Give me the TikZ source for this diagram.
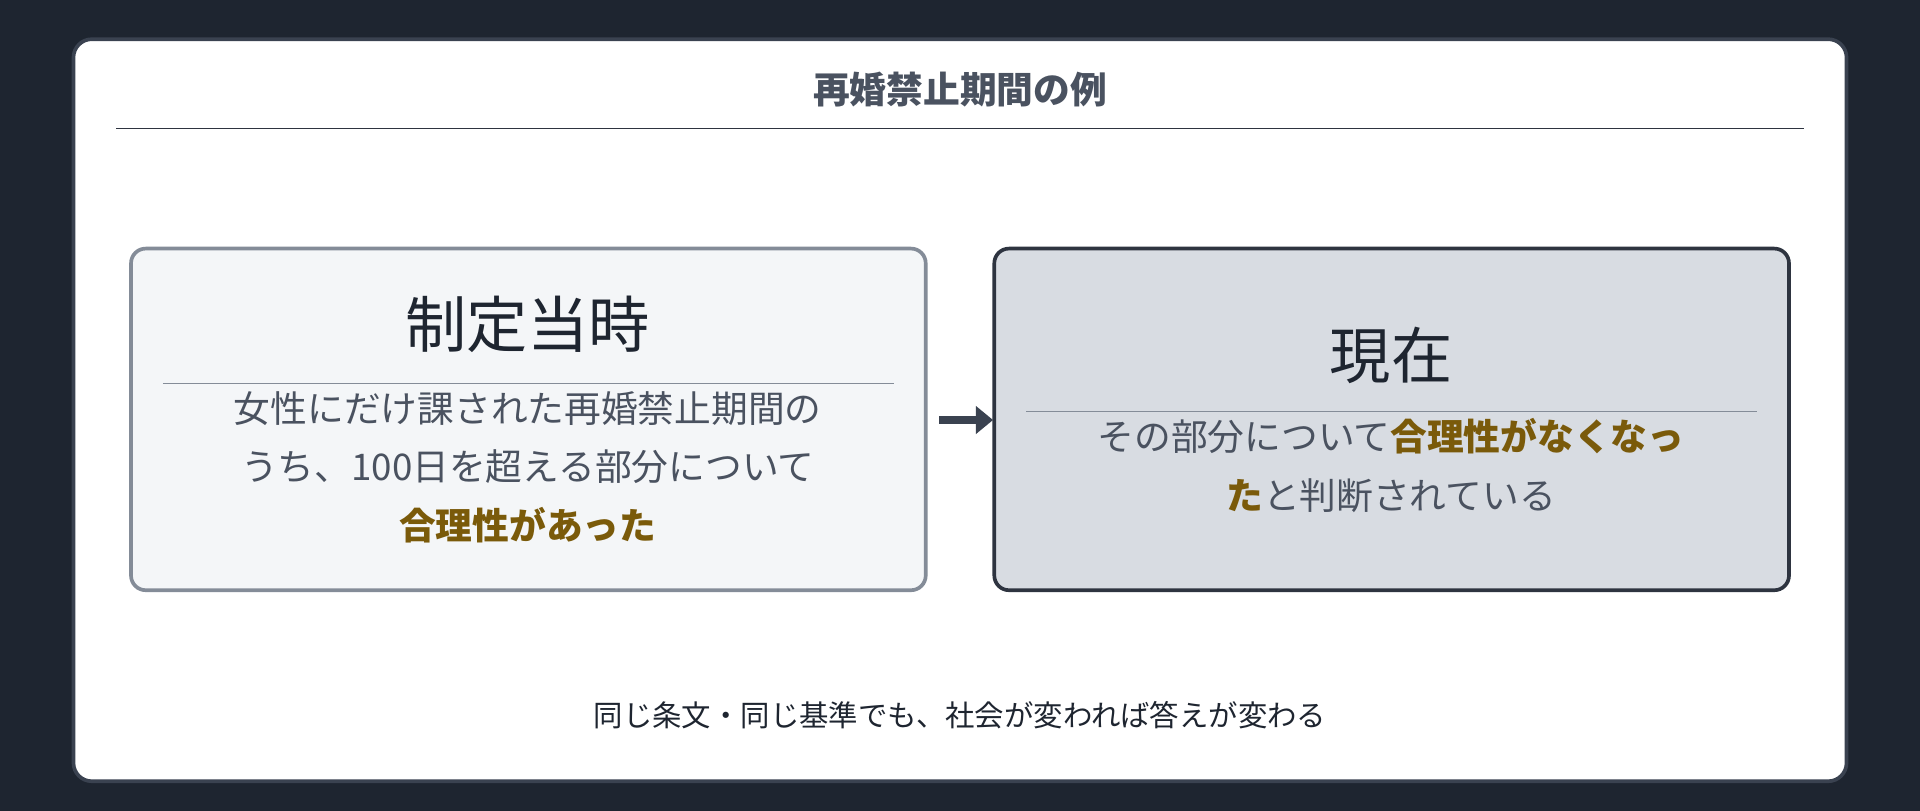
\documentclass[tikz,border=0pt]{standalone}
\usepackage{fontspec}
\usetikzlibrary{arrows.meta}
\setmainfont{Noto Sans CJK JP}
\definecolor{bg}{HTML}{1E2530}
\definecolor{cardb}{HTML}{3A4250}
\definecolor{lfill}{HTML}{F4F6F8}
\definecolor{lbord}{HTML}{848C98}
\definecolor{rfill}{HTML}{D8DCE2}
\definecolor{rbord}{HTML}{2E3440}
\definecolor{txt}{HTML}{4A5260}
\definecolor{brn}{HTML}{7A5A0A}
\definecolor{dark}{HTML}{1E2530}
\newcommand{\hl}[1]{{\bfseries\color{brn}#1}}
\begin{document}
\begin{tikzpicture}[x=1pt,y=-1pt,
  box/.style={draw,line width=3pt,rounded corners=12pt},
  body/.style={text=txt,font=\fontsize{30}{48}\selectfont,align=center,anchor=north},
  rule/.style={line width=1.2pt}]
\fill[bg] (0,0) rectangle (1568,662);
\useasboundingbox (0,0) rectangle (1568,662);
\draw[fill=white,draw=cardb,line width=3pt,rounded corners=15pt] (60,32) rectangle (1508,638);
\node[font=\fontsize{30}{36}\selectfont\bfseries,text=txt] (title) at (784,73) {再婚禁止期間の例};
\draw[rule,draw=rbord] (95,105) -- (1473,105);
\draw[box,fill=lfill,draw=lbord] (107,203) rectangle (756,482);
\node[font=\fontsize{50}{60}\selectfont,text=dark] (l) at (431,265) {制定当時};
\draw[rule,draw=lbord] (133,313) -- (730,313);
\node[body] (lt) at (431,316) {女性にだけ課された再婚禁止期間の\\うち、100日を超える部分について\\\hl{合理性があった}};
\draw[box,fill=rfill,draw=rbord] (812,203) rectangle (1461,482);
\node[font=\fontsize{50}{60}\selectfont,text=dark] (r) at (1136,290) {現在};
\draw[rule,draw=lbord] (838,336) -- (1435,336);
\node[body] (rt) at (1136,338) {その部分について\hl{合理性がなくなっ}\\\hl{た}と判断されている};
\coordinate (a1) at (767,343); \coordinate (a2) at (811,343);
\draw[line width=6pt,draw=cardb,-{Triangle[length=14pt,width=22pt]}] (a1) -- (a2);
\node[font=\fontsize{24}{30}\selectfont,text=dark] (foot) at (784,584) {同じ条文・同じ基準でも、社会が変われば答えが変わる};
\end{tikzpicture}
\end{document}
